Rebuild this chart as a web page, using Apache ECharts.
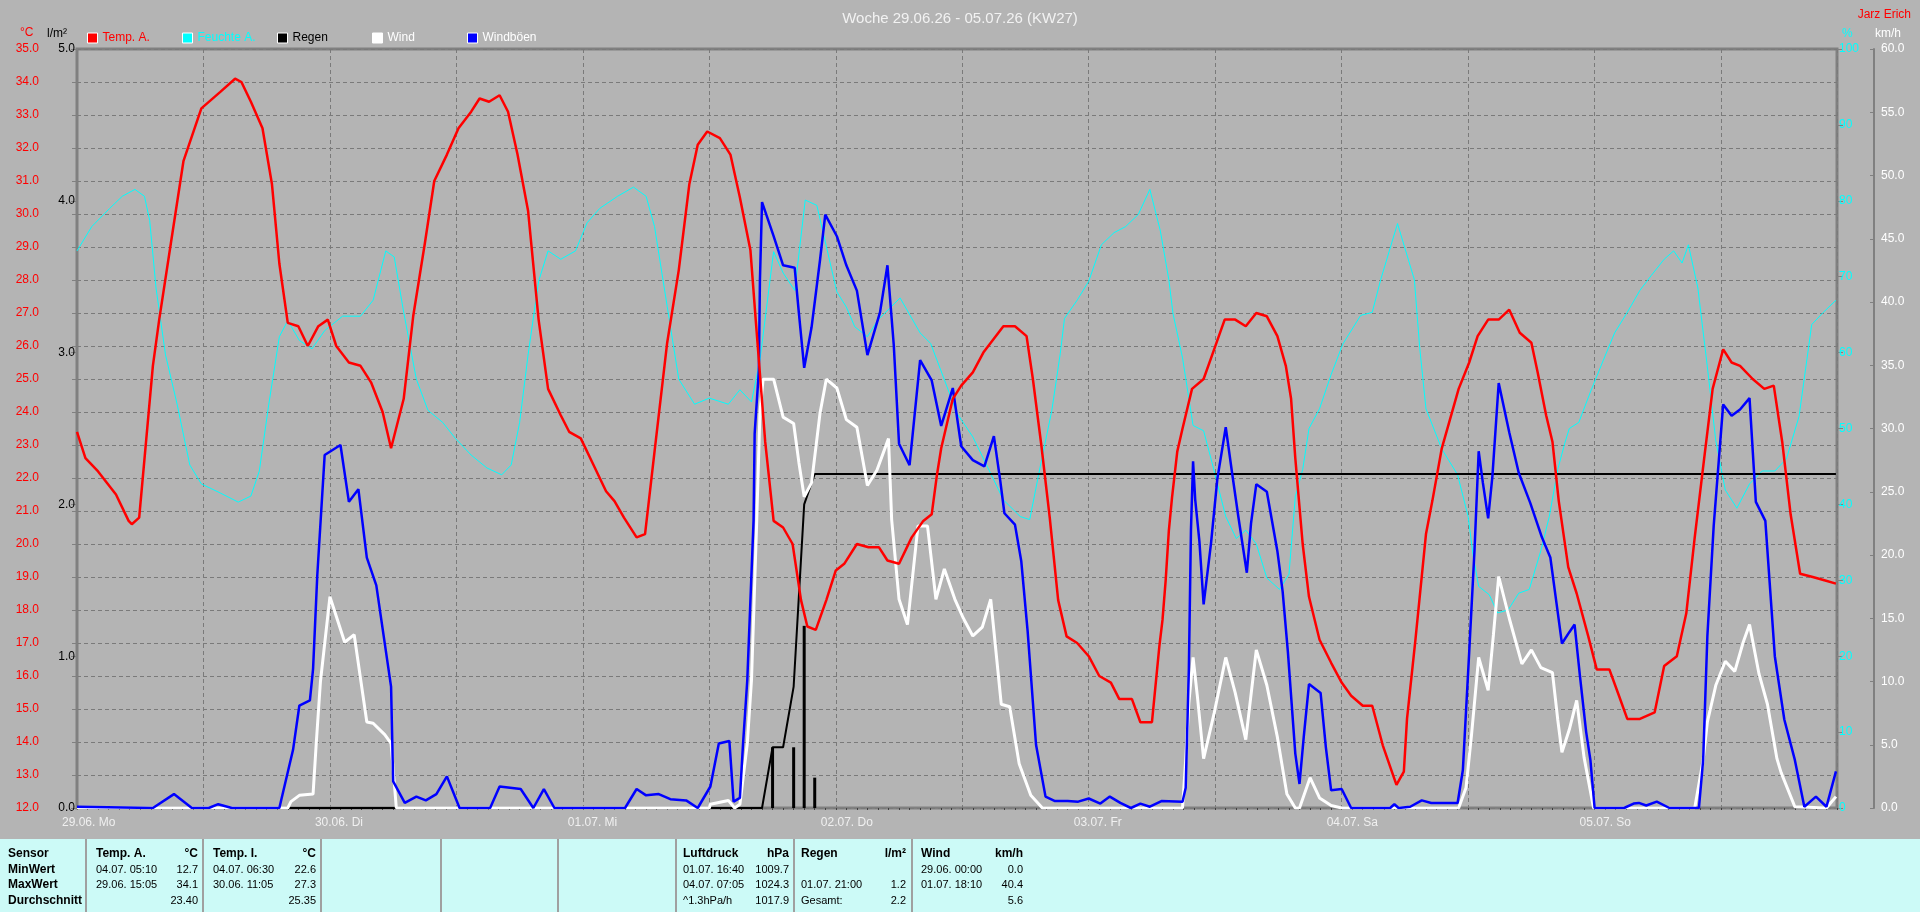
<!DOCTYPE html>
<html><head><meta charset="utf-8">
<script src="https://cdn.jsdelivr.net/npm/echarts@6/dist/echarts.min.js"></script>
<style>html,body{margin:0;padding:0;background:#b4b4b4;overflow:hidden}#c{width:1920px;height:912px}</style>
</head><body><div id="c"></div>
<script>
// ---- data (x = hours since 29.06. 00:00) ----
const titleText = 'Woche 29.06.26 - 05.07.26 (KW27)';
const authorText = 'Jarz Erich';
const dayLabels = ['29.06. Mo','30.06. Di','01.07. Mi','02.07. Do','03.07. Fr','04.07. Sa','05.07. So'];
const seriesNames = ['Temp. A.','Feuchte A.','Regen','Wind','Windböen'];
const tempUnit = '°C';

const tempA = [[0,23.4],[0.8,22.6],[2.0,22.2],[3.7,21.5],[4.9,20.7],[5.2,20.6],[5.9,20.8],[7.2,25.4],[7.8,26.8],[8.9,29.1],[10.1,31.6],[11.8,33.2],[13.6,33.7],[15.0,34.1],[15.6,34.0],[16.5,33.4],[17.6,32.6],[18.5,30.9],[19.2,28.5],[20.0,26.7],[21.0,26.6],[21.9,26.0],[22.9,26.6],[23.8,26.8],[24.6,26.0],[25.8,25.5],[26.9,25.4],[27.9,24.9],[29.0,24.0],[29.8,22.9],[31.0,24.4],[31.9,26.9],[33.0,29.1],[33.9,31.0],[35.1,31.8],[36.2,32.6],[37.4,33.1],[38.2,33.5],[39.1,33.4],[40.1,33.6],[40.9,33.1],[41.8,31.8],[42.8,30.1],[43.8,26.8],[44.7,24.7],[45.9,23.9],[46.7,23.4],[47.8,23.2],[49.0,22.4],[50.2,21.6],[51.0,21.3],[51.9,20.8],[53.1,20.2],[53.9,20.3],[54.8,22.8],[56.0,26.1],[57.1,28.3],[58.1,30.9],[58.9,32.1],[59.8,32.5],[61.0,32.3],[62.0,31.8],[62.9,30.5],[63.9,28.9],[64.4,26.8],[65.3,23.1],[66.1,20.7],[67.0,20.5],[67.9,20.0],[68.7,18.3],[69.3,17.5],[70.1,17.4],[71.1,18.3],[72.0,19.2],[72.8,19.4],[74.0,20.0],[75.1,19.9],[76.1,19.9],[76.9,19.5],[78.0,19.4],[79.2,20.2],[80.3,20.7],[81.1,20.9],[81.6,22.1],[82.0,22.9],[83.1,24.4],[83.9,24.8],[85.0,25.2],[86.0,25.8],[87.9,26.6],[89.0,26.6],[90.1,26.3],[90.7,25.0],[91.5,23.0],[92.3,20.8],[93.1,18.3],[93.9,17.2],[94.9,17.0],[96.0,16.6],[97.0,16.0],[98.1,15.8],[98.9,15.3],[100.1,15.3],[100.9,14.6],[102.0,14.6],[102.7,16.9],[103.0,17.7],[103.3,18.9],[103.6,20.4],[103.9,21.4],[104.4,22.8],[104.9,23.5],[105.8,24.7],[106.9,25.0],[107.9,25.9],[108.9,26.8],[109.9,26.8],[110.9,26.6],[111.9,27.0],[112.9,26.9],[113.9,26.3],[114.7,25.4],[115.2,24.4],[115.6,22.6],[116.3,20.0],[116.9,18.4],[117.9,17.1],[119.0,16.4],[120.0,15.8],[120.9,15.4],[122.0,15.1],[122.9,15.1],[123.9,13.9],[125.2,12.7],[125.9,13.1],[126.2,14.7],[127.0,17.1],[128.0,20.3],[128.6,21.3],[129.5,22.9],[131.1,24.7],[132.1,25.5],[132.9,26.3],[133.9,26.8],[134.9,26.8],[135.9,27.1],[136.9,26.4],[138.0,26.1],[138.6,25.2],[139.4,23.9],[140.0,23.1],[140.6,21.3],[141.5,19.3],[142.3,18.5],[143.4,17.2],[144.2,16.2],[145.4,16.2],[146.2,15.5],[147.1,14.7],[148.3,14.7],[149.7,14.9],[150.6,16.3],[151.8,16.6],[152.7,17.9],[153.5,20.2],[154.4,22.6],[155.2,24.7],[156.2,25.9],[157.0,25.5],[157.8,25.4],[159.0,25.0],[160.1,24.7],[161.0,24.8],[161.8,23.1],[162.6,20.9],[163.5,19.1],[164.7,19.0],[165.8,18.9],[166.9,18.8]];

const humidityA = [[0,73.4],[1.4,76.6],[3.1,79.0],[4.3,80.6],[5.5,81.5],[6.4,80.6],[6.9,77.4],[7.5,68.5],[8.4,59.7],[9.5,53.2],[10.7,45.2],[11.8,42.7],[13.6,41.5],[15.3,40.3],[16.5,41.1],[17.3,44.4],[18.2,53.2],[19.2,62.1],[20.0,64.2],[21.1,61.6],[22.3,60.5],[23.5,62.9],[25.2,64.8],[26.9,64.8],[28.1,66.9],[29.3,73.4],[30.1,72.6],[31.0,65.3],[32.2,56.5],[33.3,52.4],[34.7,50.8],[35.9,48.7],[37.4,46.5],[38.9,44.8],[40.3,43.9],[41.2,45.2],[42.0,50.8],[42.8,59.7],[43.8,69.4],[44.7,73.4],[45.9,72.3],[47.3,73.4],[48.4,77.1],[49.6,79.0],[51.3,80.6],[52.8,81.8],[54.0,80.6],[54.8,76.6],[56.0,66.1],[57.1,56.5],[58.6,53.2],[60.0,54.0],[61.8,53.2],[62.9,55.1],[64.0,53.5],[64.8,59.0],[66.1,73.3],[67.0,70.5],[68.1,68.2],[69.1,80.1],[70.2,79.4],[72.1,68.0],[73.0,66.0],[73.8,63.4],[75.0,62.1],[76.0,64.3],[78.1,67.2],[80.0,62.6],[81.0,61.2],[82.2,56.8],[83.5,52.0],[85.0,48.9],[87.0,43.2],[87.9,40.6],[89.5,38.4],[90.4,38.0],[91.4,45.0],[92.5,52.4],[93.3,59.9],[93.7,64.5],[94.9,66.9],[96.0,69.4],[97.2,74.2],[98.4,75.8],[99.5,76.6],[100.7,78.2],[101.8,81.5],[102.8,76.0],[103.6,69.6],[104.0,65.1],[104.9,59.3],[105.9,50.4],[106.9,49.7],[107.7,45.5],[109.0,38.4],[110.0,35.5],[110.9,36.6],[111.9,34.8],[112.9,30.3],[114.1,28.8],[115.0,30.8],[115.6,41.0],[116.3,44.6],[116.9,50.0],[117.9,52.6],[119.0,57.1],[120.1,61.1],[121.8,64.9],[122.9,65.3],[123.7,69.6],[125.3,77.0],[126.9,69.6],[127.4,60.7],[128.0,52.6],[129.5,47.3],[131.0,43.9],[132.0,38.4],[132.5,33.0],[133.0,29.2],[134.0,28.1],[134.8,25.7],[135.8,26.1],[136.8,28.3],[137.8,28.8],[138.9,33.9],[139.7,38.4],[140.5,44.6],[141.2,48.2],[141.6,50.0],[142.5,50.8],[143.6,54.8],[144.8,58.9],[145.9,62.6],[147.1,65.3],[148.3,68.2],[149.4,70.2],[150.6,72.3],[151.5,73.4],[152.3,71.8],[152.9,74.2],[153.8,68.5],[154.7,58.1],[155.5,48.4],[156.4,41.9],[157.5,39.5],[158.7,42.7],[159.9,44.4],[161.1,44.4],[162.2,46.0],[163.4,51.6],[164.6,63.7],[165.7,65.3],[166.9,66.9]];

const rainTotal = [[0,0],[65.0,0],[66.0,0.4],[67.0,0.4],[68.0,0.8],[69.0,2.0],[70.0,2.2],[166.9,2.2]];
const rainBars = [[66.0,0.4],[68.0,0.4],[69.0,1.2],[70.0,0.2]];

const windSpeed = [[0,0],[20.0,0],[20.3,0.5],[21.1,1.0],[22.4,1.1],[22.7,5.1],[23.1,10.0],[24.0,16.7],[25.4,13.1],[26.3,13.7],[27.5,6.8],[28.1,6.7],[29.2,5.8],[29.8,5.1],[30.3,0],[60.0,0],[60.1,0.3],[61.8,0.6],[62.4,0],[62.9,0.3],[63.6,5.1],[64.0,10.1],[64.5,22.8],[64.8,31.2],[65.1,33.9],[66.1,33.9],[67.0,30.9],[68.0,30.4],[68.5,27.3],[69.0,24.6],[69.7,25.7],[70.5,31.2],[71.1,33.9],[72.1,33.2],[73.0,30.7],[74.0,30.1],[75.0,25.5],[75.9,26.7],[77.0,29.2],[77.3,22.8],[78.0,16.5],[78.8,14.5],[79.8,22.3],[80.7,22.3],[81.5,16.5],[82.3,18.9],[83.3,16.5],[84.1,15.0],[85.0,13.6],[85.9,14.3],[86.7,16.5],[87.7,8.2],[88.5,8.0],[89.4,3.5],[90.5,1.0],[91.6,0],[104.9,0],[105.2,3.8],[105.5,8.3],[105.9,11.9],[106.3,8.9],[106.9,3.9],[107.9,7.5],[109.0,11.9],[109.9,9.1],[110.9,5.4],[111.9,12.5],[112.9,9.7],[113.9,5.6],[114.8,1.1],[115.6,0],[116.0,0],[117.0,2.4],[117.9,0.8],[119.0,0.2],[120.0,0],[131.1,0],[131.8,1.6],[132.3,5.6],[133.0,11.9],[133.9,9.3],[134.4,13.7],[134.9,18.3],[135.9,15.0],[137.1,11.4],[138.0,12.5],[138.9,11.1],[140.0,10.7],[140.5,7.0],[140.9,4.4],[141.6,6.2],[142.3,8.5],[143.0,4.0],[143.9,0],[153.5,0],[154.3,3.8],[154.7,6.8],[155.5,9.7],[156.4,11.6],[157.3,10.8],[158.1,13.1],[158.7,14.5],[159.6,10.6],[160.4,8.2],[161.3,3.9],[161.7,2.8],[163.0,0.1],[166.0,0],[166.9,0.9]];

const windGust = [[0,0.1],[7.2,0],[9.2,1.1],[10.9,0],[12.5,0],[13.4,0.3],[14.7,0],[19.2,0],[20.5,4.6],[21.1,8.1],[22.1,8.5],[22.4,11.0],[22.8,18.4],[23.5,27.9],[25.0,28.7],[25.8,24.2],[26.7,25.2],[27.5,19.8],[28.4,17.6],[29.8,9.6],[30.0,2.1],[31.1,0.4],[32.2,0.9],[33.1,0.6],[34.1,1.1],[35.1,2.5],[36.3,0],[39.2,0],[40.1,1.7],[42.1,1.5],[43.3,0],[44.3,1.5],[45.3,0],[52.0,0],[53.1,1.5],[54.0,1.0],[55.2,1.1],[56.3,0.7],[57.8,0.6],[58.9,0],[60.1,1.7],[60.9,5.1],[61.9,5.3],[62.3,0.5],[62.9,0.8],[63.2,5.1],[63.6,10.1],[64.2,22.8],[64.3,29.6],[64.7,34.6],[64.8,41.7],[65.0,47.9],[66.1,45.2],[67.0,42.9],[68.1,42.7],[68.5,39.1],[69.0,34.8],[69.7,38.0],[70.5,43.3],[71.0,46.9],[72.1,45.2],[73.0,42.9],[74.0,40.9],[75.0,35.8],[76.2,39.2],[76.9,42.9],[77.5,36.6],[78.0,28.8],[79.0,27.1],[80.0,35.4],[81.1,33.8],[82.0,30.2],[83.1,33.2],[83.9,28.6],[85.0,27.5],[86.1,27.0],[87.0,29.4],[87.6,25.9],[88.0,23.3],[89.0,22.4],[89.6,19.5],[90.2,14.0],[91.0,5.0],[91.9,0.9],[92.8,0.55],[94.0,0.55],[95.0,0.5],[96.0,0.75],[97.1,0.35],[98.0,0.9],[99.0,0.4],[100.0,0],[100.9,0.35],[101.8,0.1],[102.9,0.55],[104.9,0.5],[105.2,1.6],[105.5,11.0],[105.7,22.0],[105.9,27.4],[106.1,24.4],[106.5,21.1],[106.9,16.1],[107.6,20.9],[108.2,26.0],[109.0,30.1],[109.6,26.5],[110.2,23.0],[111.0,18.6],[111.4,22.5],[111.9,25.6],[112.9,25.0],[113.9,20.3],[114.4,17.1],[114.9,12.3],[115.6,4.3],[116.0,1.9],[116.4,5.6],[116.9,9.8],[118.0,9.1],[118.5,4.8],[119.0,1.4],[120.0,1.5],[120.9,0],[124.6,0],[125.0,0.3],[125.4,0],[126.5,0.1],[127.6,0.6],[128.5,0.4],[131.0,0.4],[131.5,3.0],[132.1,12.3],[132.6,20.3],[133.0,28.2],[133.4,25.7],[133.9,22.9],[134.3,26.2],[134.9,33.6],[135.9,29.7],[136.8,26.5],[137.9,24.1],[139.0,21.4],[139.8,19.8],[140.4,16.1],[140.9,13.0],[141.6,13.9],[142.1,14.5],[142.6,10.5],[143.2,6.0],[143.6,3.8],[144.0,0],[146.8,0],[147.7,0.35],[148.2,0.4],[148.9,0.2],[149.9,0.5],[151.1,0],[153.9,0],[154.3,3.8],[154.7,13.6],[155.3,22.3],[156.2,31.9],[157.0,31.0],[157.8,31.5],[158.7,32.4],[159.3,24.2],[160.2,22.7],[161.1,12.0],[162.0,7.0],[163.0,3.8],[163.9,0.1],[165.0,0.9],[166.0,0.1],[166.9,2.9]];

// ---- statistics table ----
const tableRowLabels = ['Sensor','MinWert','MaxWert','Durchschnitt'];
const statTempA = ['Temp. A.','°C','04.07. 05:10','12.7','29.06. 15:05','34.1','','23.40'];
const statTempI = ['Temp. I.','°C','04.07. 06:30','22.6','30.06. 11:05','27.3','','25.35'];
const statPressure = ['Luftdruck','hPa','01.07. 16:40','1009.7','04.07. 07:05','1024.3','^1.3hPa/h','1017.9'];
const statRain = ['Regen','l/m²','','','01.07. 21:00','1.2','Gesamt:','2.2'];
const statWind = ['Wind','km/h','29.06. 00:00','0.0','01.07. 18:10','40.4','','5.6'];

// ---- chart ----
const FONT = '"Liberation Sans", Arial, sans-serif';
const GRID = {left:77, right:83, top:49, bottom:104};
const C_RED = '#ff0000', C_CYAN = '#00ffff', C_BLUE = '#0000ff', C_WHITE = '#ffffff', C_BLACK = '#000000';
const AXIS_GRAY = '#808080';
const chart = echarts.init(document.getElementById('c'), null, {renderer:'canvas', width:1920, height:912});

const legendColors = [C_RED, C_CYAN, C_BLACK, C_WHITE, C_WHITE];
const legendLeft = [87, 182, 277, 372, 467];
const legends = seriesNames.map((n,i)=>({
  data:[n], left:legendLeft[i], top:32, padding:0, icon:'rect', itemWidth:10, itemHeight:10, itemGap:4,
  itemStyle:{borderColor:'#ffffff', borderWidth:1},
  textStyle:{color:legendColors[i], fontSize:12, fontFamily:FONT},
  selectedMode:false
}));

const dashed = {color:'#7a7a7a', width:1, type:[4,3]};

const option = {
  backgroundColor:'#b4b4b4',
  animation:false,
  textStyle:{fontFamily:FONT},
  title:[
    {text:titleText, left:'center', top:6, textStyle:{color:'#f2f2f2', fontSize:15, fontWeight:'normal', fontFamily:FONT}},
    {text:authorText, right:4, top:4, textStyle:{color:C_RED, fontSize:12, fontWeight:'normal', fontFamily:FONT}}
  ],
  legend:legends,
  grid:{left:GRID.left, right:GRID.right, top:GRID.top, bottom:GRID.bottom, show:true, borderColor:AXIS_GRAY, borderWidth:3, backgroundColor:'transparent'},
  xAxis:{
    type:'value', min:0, max:167, interval:12,
    axisLine:{show:false},
    axisTick:{show:true, inside:false, length:2, lineStyle:{color:'#404040'}},
    minorTick:{show:true, splitNumber:12, length:2, lineStyle:{color:'#404040'}},
    axisLabel:{show:false},
    splitLine:{show:true, lineStyle:dashed}
  },
  yAxis:[
    {type:'value', position:'left', offset:36, min:12, max:35, interval:1,
      axisLine:{show:true, lineStyle:{color:AXIS_GRAY, width:2}},
      axisTick:{show:true, length:5, lineStyle:{color:AXIS_GRAY}},
      axisLabel:{color:C_RED, fontSize:12, margin:2, fontFamily:FONT, formatter:v=>v.toFixed(1)},
      splitLine:{show:true, lineStyle:dashed}},
    {type:'value', position:'left', offset:0, min:0, max:5, interval:1,
      name:'l/m²', nameLocation:'end', nameGap:9,
      nameTextStyle:{color:C_BLACK, fontSize:12, align:'right', padding:[0,10,0,0], fontFamily:FONT},
      axisLine:{show:false},
      axisTick:{show:true, length:6, lineStyle:{color:AXIS_GRAY}},
      axisLabel:{color:C_BLACK, fontSize:12, margin:2, fontFamily:FONT, formatter:v=>v.toFixed(1)},
      splitLine:{show:false}},
    {type:'value', position:'right', offset:0, min:0, max:100, interval:10,
      name:'%', nameLocation:'end', nameGap:9,
      nameTextStyle:{color:C_CYAN, fontSize:12, align:'left', padding:[0,0,0,5], fontFamily:FONT},
      axisLine:{show:false},
      axisTick:{show:true, length:6, lineStyle:{color:AXIS_GRAY}},
      axisLabel:{color:C_CYAN, fontSize:12, margin:2, fontFamily:FONT, formatter:v=>String(v)},
      splitLine:{show:false}},
    {type:'value', position:'right', offset:37, min:0, max:60, interval:5,
      name:'km/h', nameLocation:'end', nameGap:9,
      nameTextStyle:{color:C_WHITE, fontSize:12, align:'left', padding:[0,0,0,1], fontFamily:FONT},
      axisLine:{show:true, lineStyle:{color:AXIS_GRAY, width:2}},
      axisTick:{show:true, inside:true, length:4, lineStyle:{color:AXIS_GRAY}},
      axisLabel:{color:C_WHITE, fontSize:12, margin:7, fontFamily:FONT, formatter:v=>v.toFixed(1)},
      splitLine:{show:false}}
  ],
  series:[
    {name:seriesNames[1], type:'line', yAxisIndex:2, data:humidityA, showSymbol:false, lineStyle:{color:C_CYAN, width:1}, itemStyle:{color:C_CYAN}, z:2},
    {name:seriesNames[2], type:'bar', yAxisIndex:1, data:rainBars, barWidth:3, itemStyle:{color:C_BLACK}, z:3},
    {name:seriesNames[2], type:'line', yAxisIndex:1, data:rainTotal, showSymbol:false, lineStyle:{color:C_BLACK, width:2}, itemStyle:{color:C_BLACK}, z:3},
    {name:seriesNames[3], type:'line', yAxisIndex:3, data:windSpeed, showSymbol:false, lineStyle:{color:C_WHITE, width:3}, itemStyle:{color:C_WHITE}, z:4},
    {name:seriesNames[4], type:'line', yAxisIndex:3, data:windGust, showSymbol:false, lineStyle:{color:C_BLUE, width:2.5}, itemStyle:{color:C_BLUE}, z:5},
    {name:seriesNames[0], type:'line', yAxisIndex:0, data:tempA, showSymbol:false, lineStyle:{color:C_RED, width:2.5}, itemStyle:{color:C_RED}, z:6}
  ]
};
chart.setOption(option);

// ---- temperature unit, day labels (positioned via the x scale) and statistics table ----
const g = [];
g.push({type:'text', x:20, y:33, style:{text:tempUnit, fill:C_RED, fontSize:12, fontFamily:FONT, align:'left', verticalAlign:'middle'}});
dayLabels.forEach((lab,i)=>{
  const px = chart.convertToPixel({xAxisIndex:0}, i*24);
  g.push({type:'text', x:px-15, y:823, style:{text:lab, fill:'#f0f0f0', fontSize:12, fontFamily:FONT, align:'left', verticalAlign:'middle'}});
});
const TOP = 839;
g.push({type:'rect', shape:{x:0, y:TOP, width:1920, height:912-TOP}, style:{fill:'#ccfaf7'}});
[86,203,321,441,558,676,794,912].forEach(x=>{
  g.push({type:'line', shape:{x1:x, y1:TOP, x2:x, y2:912}, style:{stroke:'#a0a0a0', lineWidth:2}});
});
const rowY = [854, 870, 885, 901];
const txt = (s,x,y,align,bold)=>({type:'text', x:x, y:y, style:{text:s, fill:'#000', fontSize:bold?12:11, fontFamily:FONT, fontWeight:bold?'bold':'normal', align:align, verticalAlign:'middle'}, z:10});
tableRowLabels.forEach((s,i)=>g.push(txt(s,8,rowY[i],'left',true)));
const cols = [[statTempA,96,198],[statTempI,213,316],[statPressure,683,789],[statRain,801,906],[statWind,921,1023]];
cols.forEach(([arr,l,r])=>{
  for(let i=0;i<4;i++){
    const a = arr[i*2], b = arr[i*2+1];
    if(a) g.push(txt(a,l,rowY[i],'left',i===0));
    if(b) g.push(txt(b,r,rowY[i],'right',i===0));
  }
});
chart.setOption({graphic:g});
</script></body></html>
